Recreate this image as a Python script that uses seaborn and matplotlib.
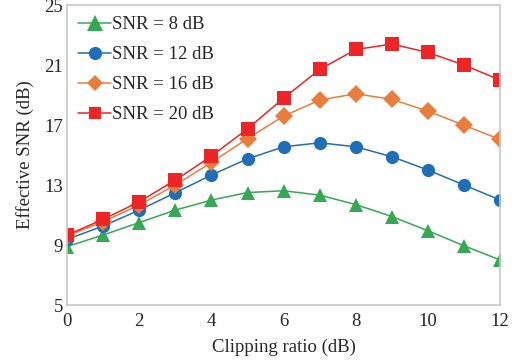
import numpy as np
import pandas as pd
import matplotlib
matplotlib.use("Agg")
import matplotlib.pyplot as plt
import seaborn as sns

clipping = [0, 1, 2, 3, 4, 5, 6, 7, 8, 9, 10, 11, 12]
snr8 = [8.9, 9.67, 10.5, 11.33, 12.0, 12.5, 12.62, 12.33, 11.7, 10.9, 9.95, 8.95, 8.0]
snr12 = [9.38, 10.27, 11.33, 12.49, 13.67, 14.75, 15.55, 15.82, 15.55, 14.89, 14.0, 13.0, 12.0]
snr16 = [9.6, 10.56, 11.67, 13.0, 14.51, 16.1, 17.6, 18.67, 19.09, 18.71, 17.93, 16.98, 16.04]
snr20 = [9.67, 10.71, 11.89, 13.33, 14.93, 16.75, 18.8, 20.71, 22.04, 22.4, 21.84, 21.0, 20.0]
labels = ["SNR = 8 dB", "SNR = 12 dB", "SNR = 16 dB", "SNR = 20 dB"]
yticks = [5, 9, 13, 17, 21, 25]
xticks = [0, 2, 4, 6, 8, 10, 12]

frames = []
for lab, vals in zip(labels, [snr8, snr12, snr16, snr20]):
    frames.append(pd.DataFrame({"x": clipping, "y": vals, "series": lab}))
df = pd.concat(frames, ignore_index=True)

sns.set_style("white")
plt.rcParams['font.family'] = ['Liberation Serif', 'DejaVu Serif']

palette = {labels[0]: "#34A853", labels[1]: "#1F6EB8", labels[2]: "#E97D3C", labels[3]: "#EE2427"}
markers = {labels[0]: "^", labels[1]: "o", labels[2]: "D", labels[3]: "s"}
msizes = {labels[0]: 11, labels[1]: 9.5, labels[2]: 8.5, labels[3]: 9}

fig = plt.figure(figsize=(5.12, 3.64), dpi=100)
ax = fig.add_axes([0.131, 0.162, 0.846, 0.824])

sns.lineplot(data=df, x="x", y="y", hue="series", style="series", palette=palette,
             markers=markers, dashes=False, markersize=9.5, markeredgewidth=0,
             linewidth=1.1, ax=ax)
for line in ax.get_lines():
    lab = line.get_label()
    if lab in msizes:
        line.set_markersize(msizes[lab])

ax.set_xlim(0, 12)
ax.set_ylim(5, 25)
ax.set_xticks(xticks)
ax.set_yticks(yticks)
ax.tick_params(direction="in", length=4, color="#BBBBBB", labelsize=13.5)
ax.tick_params(axis="x", pad=6)
ax.tick_params(axis="y", pad=3)
for sp in ax.spines.values():
    sp.set_color("#C8C8C8")
    sp.set_linewidth(1.2)
ax.set_xlabel("Clipping ratio (dB)", fontsize=13.5, labelpad=6)
ax.set_ylabel("Effective SNR (dB)", fontsize=13.5, labelpad=7)

leg = ax.legend(loc="upper left", frameon=False, fontsize=13.5, handlelength=1.75,
                handletextpad=0.05, labelspacing=0.68, borderaxespad=0.2,
                bbox_to_anchor=(0.0, 1.0))
for h, t in zip(leg.legend_handles, leg.get_texts()):
    lab = t.get_text()
    if lab in msizes:
        h.set_markersize(msizes[lab])
        h.set_markeredgewidth(0)

fig.savefig("out.png", dpi=100)
